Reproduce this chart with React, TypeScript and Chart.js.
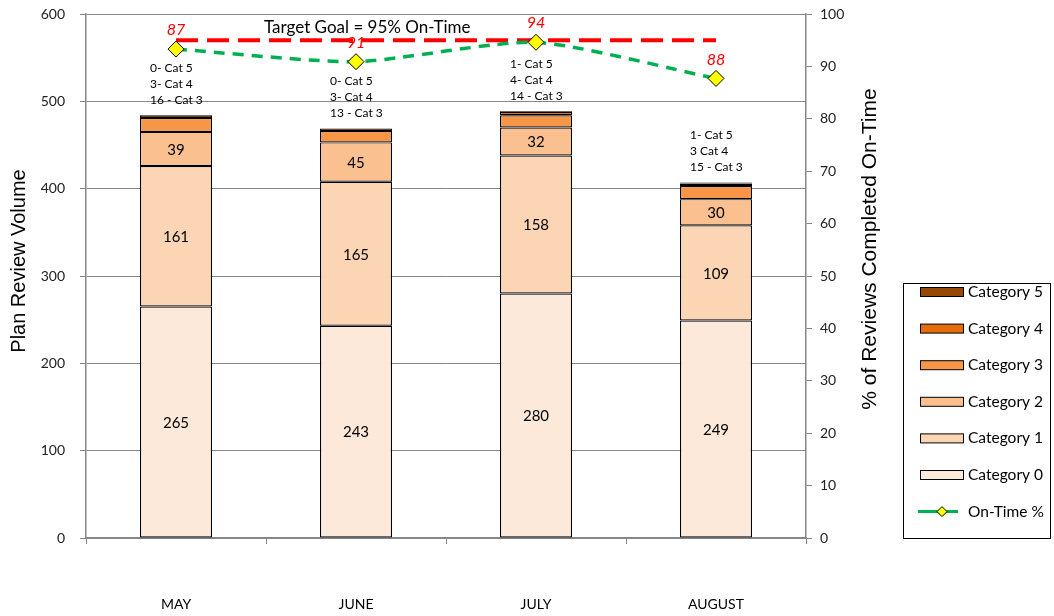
import { useEffect, useRef } from "react";
import { Chart, registerables } from "chart.js";

Chart.register(...registerables);

const months = ["MAY", "JUNE", "JULY", "AUGUST"];
const cat0 = [265, 243, 280, 249];
const cat1 = [161, 165, 158, 109];
const cat2 = [39, 45, 32, 30];
const cat3 = [16, 13, 14, 15];
const cat4 = [3, 3, 4, 3];
const cat5 = [0, 0, 1, 1];
const onTime = [93.3, 90.9, 94.6, 87.7];
const onTimeLabels = ["87", "91", "94", "88"];
const targetGoal = [95, 95, 95, 95];
const barNotes = [
  ["0- Cat 5", "3- Cat 4", "16 - Cat 3"],
  ["0- Cat 5", "3- Cat 4", "13 - Cat 3"],
  ["1- Cat 5", "4- Cat 4", "14 - Cat 3"],
  ["1- Cat 5", "3 Cat 4", "15 - Cat 3"],
];
const categoryNames = ["Category 0", "Category 1", "Category 2", "Category 3", "Category 4", "Category 5"];
const categoryColors = ["#FDE9D9", "#FCD5B4", "#FAC090", "#F79646", "#E46C0A", "#974806"];
const labeledCategories = [0, 1, 2];
const targetText = "Target Goal = 95% On-Time";
const leftTitle = "Plan Review Volume";
const rightTitle = "% of Reviews Completed On-Time";
const onTimeName = "On-Time %";

const FONT = "Lato, 'Open Sans', sans-serif";
const TITLE_FONT = "'Liberation Sans', Arial, sans-serif";
const AXIS = "#868686";

const extras = {
  id: "extras",
  afterDatasetsDraw(chart: any) {
    const ctx = chart.ctx as CanvasRenderingContext2D;
    const x = chart.scales.x;
    ctx.save();
    // bar segment labels
    ctx.font = `15px ${FONT}`;
    ctx.fillStyle = "#000";
    ctx.textAlign = "center";
    ctx.textBaseline = "middle";
    labeledCategories.forEach((k) => {
      const meta = chart.getDatasetMeta(k);
      meta.data.forEach((el: any, j: number) => {
        ctx.fillText(String(chart.data.datasets[k].data[j]), el.x, (el.y + el.base) / 2 + 1);
      });
    });
    // notes above bars
    const topMeta = chart.getDatasetMeta(5);
    ctx.font = `12px ${FONT}`;
    ctx.textAlign = "left";
    topMeta.data.forEach((el: any, j: number) => {
      const lines = barNotes[j];
      lines.forEach((t, i) => {
        ctx.fillText(t, el.x - 26, el.y - 15 - (lines.length - 1 - i) * 16);
      });
    });
    // on-time value labels
    const lineMeta = chart.getDatasetMeta(6);
    ctx.font = `italic 16px ${FONT}`;
    ctx.fillStyle = "#FF0000";
    ctx.textAlign = "center";
    lineMeta.data.forEach((el: any, j: number) => {
      ctx.fillText(onTimeLabels[j], el.x, el.y - 19);
    });
    // target text
    const tMeta = chart.getDatasetMeta(7);
    ctx.font = `17px ${FONT}`;
    ctx.fillStyle = "#000";
    ctx.textAlign = "left";
    ctx.fillText(targetText, x.getPixelForValue(0.5) - 2, tMeta.data[0].y - 13);
    ctx.restore();
  },
  afterDraw(chart: any) {
    const ctx = chart.ctx as CanvasRenderingContext2D;
    const area = chart.chartArea;
    ctx.save();
    // axis titles
    ctx.fillStyle = "#000";
    ctx.font = `20px ${TITLE_FONT}`;
    ctx.textAlign = "center";
    ctx.textBaseline = "middle";
    ctx.translate(19, (area.top + area.bottom) / 2 - 15);
    ctx.rotate(-Math.PI / 2);
    ctx.fillText(leftTitle, 0, 0);
    ctx.restore();
    ctx.save();
    ctx.fillStyle = "#000";
    ctx.font = `21px ${TITLE_FONT}`;
    ctx.textAlign = "center";
    ctx.textBaseline = "middle";
    ctx.translate(area.right + 64, (area.top + area.bottom) / 2 - 27);
    ctx.rotate(-Math.PI / 2);
    ctx.fillText(rightTitle, 0, 0);
    ctx.restore();

    // legend
    ctx.save();
    const lx = 903.5, ly = 283.5, lw = 147, lh = area.bottom - 283;
    ctx.fillStyle = "#fff";
    ctx.fillRect(lx, ly, lw, lh);
    ctx.strokeStyle = "#000";
    ctx.lineWidth = 1;
    ctx.strokeRect(lx, ly, lw, lh);
    ctx.font = `15.5px ${FONT}`;
    ctx.textAlign = "left";
    ctx.textBaseline = "middle";
    const step = 36.6;
    for (let i = 0; i < 6; i++) {
      const k = 5 - i;
      const cy = 292 + i * step;
      const ds = chart.data.datasets[k];
      ctx.fillStyle = ds.backgroundColor;
      ctx.fillRect(920, cy - 4.5, 43, 9);
      ctx.strokeStyle = "#000";
      ctx.strokeRect(920.5, cy - 4.5, 43, 9);
      ctx.fillStyle = "#000";
      ctx.fillText(ds.label, 968, cy);
    }
    const cy = 292 + 6 * step;
    ctx.strokeStyle = "#00B050";
    ctx.lineWidth = 3;
    ctx.beginPath();
    ctx.moveTo(918, cy);
    ctx.lineTo(958, cy);
    ctx.stroke();
    ctx.beginPath();
    ctx.moveTo(942, cy - 5);
    ctx.lineTo(947, cy);
    ctx.lineTo(942, cy + 5);
    ctx.lineTo(937, cy);
    ctx.closePath();
    ctx.fillStyle = "#FFFF00";
    ctx.fill();
    ctx.strokeStyle = "#000";
    ctx.lineWidth = 1;
    ctx.stroke();
    ctx.fillStyle = "#000";
    ctx.fillText(chart.data.datasets[6].label, 968, cy);
    ctx.restore();
  },
};

export default function App() {
  const ref = useRef<HTMLCanvasElement | null>(null);
  useEffect(() => {
    document.body.style.margin = "0";
    const canvas = ref.current;
    if (!canvas) return;
    const bars = [cat0, cat1, cat2, cat3, cat4, cat5].map((d, i) => ({
      type: "bar" as const,
      label: categoryNames[i],
      data: d,
      backgroundColor: categoryColors[i],
      borderColor: "#000",
      borderWidth: 1.2,
      borderSkipped: false,
      stack: "s",
      yAxisID: "y",
      order: 2,
      barPercentage: 0.4,
      categoryPercentage: 1,
    }));
    const chart = new Chart(canvas, {
      type: "bar",
      data: {
        labels: months,
        datasets: [
          ...bars,
          {
            type: "line",
            label: onTimeName,
            data: onTime,
            yAxisID: "y1",
            borderColor: "#00B050",
            borderWidth: 3.5,
            borderDash: [11, 8],
            tension: 0.22,
            pointStyle: "rectRot",
            pointRadius: 8,
            pointBackgroundColor: "#FFFF00",
            pointBorderColor: "#000",
            pointBorderWidth: 1,
            order: 0,
          },
          {
            type: "line",
            label: "Target",
            data: targetGoal,
            yAxisID: "y1",
            borderColor: "#FF0000",
            borderWidth: 4,
            borderDash: [22, 9],
            pointRadius: 0,
            order: 1,
          },
        ] as any,
      },
      options: {
        responsive: false,
        animation: false,
        layout: { padding: { top: 14, right: 169, left: 0, bottom: 0 } },
        plugins: { legend: { display: false }, tooltip: { enabled: false } },
        scales: {
          x: {
            stacked: true,
            offset: true,
            grid: { display: true, drawOnChartArea: false, drawTicks: true, tickLength: 6, color: AXIS, offset: true },
            border: { display: true, color: AXIS, width: 1.5 },
            ticks: { padding: 52, color: "#000", font: { family: FONT, size: 14 } },
            afterFit: (s: any) => { s.height = 78; },
          },
          y: {
            position: "left",
            stacked: true,
            min: 0,
            max: 600,
            ticks: { stepSize: 100, padding: 15, color: "#222", font: { family: FONT, size: 14 } },
            grid: { color: AXIS, lineWidth: 1, tickLength: 6, drawTicks: true },
            border: { display: true, color: AXIS, width: 1.5 },
            afterFit: (s: any) => { s.width = 86; s.paddingTop = 0; s.paddingBottom = 0; },
          },
          y1: {
            position: "right",
            min: 0,
            max: 100,
            ticks: { stepSize: 10, padding: 8, color: "#222", font: { family: FONT, size: 14 } },
            grid: { drawOnChartArea: false, tickLength: 6, color: AXIS },
            border: { display: true, color: AXIS, width: 1.5 },
            afterFit: (s: any) => { s.width = 79; s.paddingTop = 0; s.paddingBottom = 0; },
          },
        },
      },
      plugins: [extras],
    });
    return () => chart.destroy();
  }, []);
  return (
    <div style={{ width: 1054, height: 616, background: "#fff" }}>
      <canvas ref={ref} width={1054} height={616} style={{ display: "block", width: 1054, height: 616 }} />
    </div>
  );
}
